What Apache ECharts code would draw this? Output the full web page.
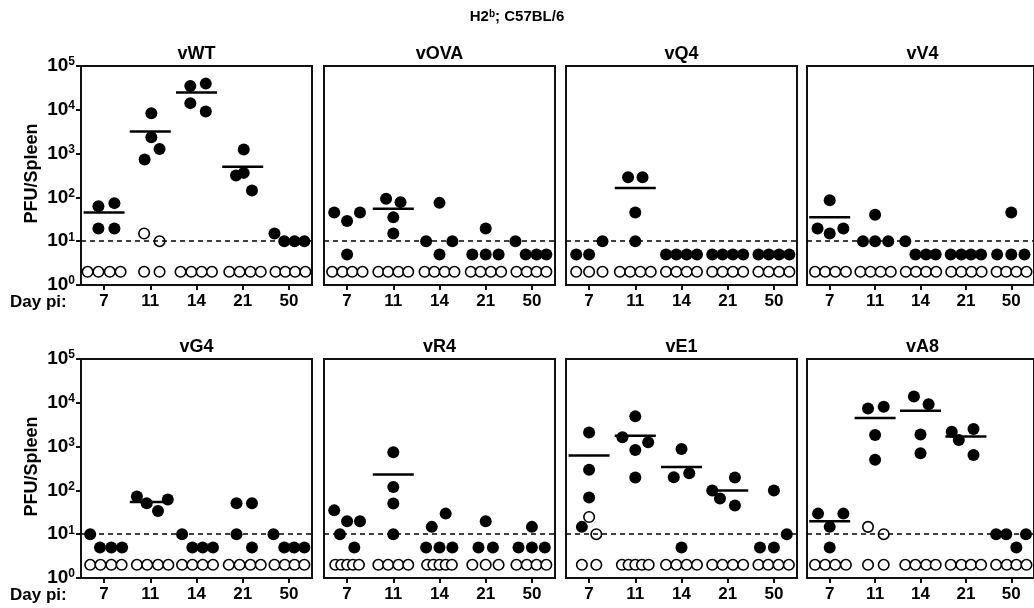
<!DOCTYPE html>
<html>
<head>
<meta charset="utf-8">
<script src="https://cdn.jsdelivr.net/npm/echarts@6/dist/echarts.min.js"></script>
<style>html,body{margin:0;padding:0;background:#fff;}#c{width:1034px;height:608px;}</style>
</head>
<body>
<div id="c"></div>
<script>
// ---- data ----
const days = ['7', '11', '14', '21', '50'];
const panelNames = ['vWT', 'vOVA', 'vQ4', 'vV4', 'vG4', 'vR4', 'vE1', 'vA8'];
const yTickValues = [1, 10, 100, 1000, 10000, 100000];
const detectionLimit = 10;

// points: [day index, jitter slot, PFU/spleen]
const vWT_filled = [[0,-0.55,63],[0,1.0,74],[0,-0.55,19.5],[0,1.0,19.5],
  [1,0.1,8300],[1,0.1,2350],[1,0.9,1280],[1,-0.55,730],
  [2,-0.6,35100],[2,0.9,39600],[2,-0.6,14200],[2,0.9,9200],
  [3,0.1,1240],[3,-0.65,316],[3,0.1,363],[3,0.9,144],
  [4,-1.4,15],[4,-0.45,10],[4,0.55,10],[4,1.5,10]];
const vWT_open = [[0,-1.6,2],[0,-0.55,2],[0,0.55,2],[0,1.6,2],
  [1,-0.6,15],[1,0.9,10],[1,-0.6,2],[1,0.9,2],
  [2,-1.55,2],[2,-0.5,2],[2,0.5,2],[2,1.5,2],
  [3,-1.3,2],[3,-0.3,2],[3,0.75,2],[3,1.75,2],
  [4,-1.3,2],[4,-0.35,2],[4,0.6,2],[4,1.6,2]];
const vWT_mean = [45, 3200, 24700, 504, null];

const vOVA_filled = [[0,-1.25,45],[0,0,29],[0,1.25,45],[0,0,5],
  [1,-0.7,93],[1,0.7,78],[1,0,35],[1,0,15],
  [2,0,75],[2,-1.3,10],[2,1.25,10],[2,0,5],
  [3,0,19.5],[3,-1.3,5],[3,0,5],[3,1.25,5],
  [4,-1.6,10],[4,-0.6,5],[4,0.45,5],[4,1.4,5]];
const vOVA_open = [[0,-1.45,2],[0,-0.45,2],[0,0.5,2],[0,1.5,2],
  [1,-1.45,2],[1,-0.5,2],[1,0.5,2],[1,1.45,2],
  [2,-1.45,2],[2,-0.5,2],[2,0.5,2],[2,1.45,2],
  [3,-1.45,2],[3,-0.5,2],[3,0.5,2],[3,1.5,2],
  [4,-1.5,2],[4,-0.5,2],[4,0.45,2],[4,1.4,2]];
const vOVA_mean = [null, 55, null, null, null];

const vQ4_filled = [[0,-1.25,5],[0,0,5],[0,1.3,10],
  [1,-0.7,290],[1,0.7,290],[1,0,45],[1,0,10],
  [2,-1.5,5],[2,-0.5,5],[2,0.5,5],[2,1.5,5],
  [3,-1.5,5],[3,-0.5,5],[3,0.5,5],[3,1.5,5],
  [4,-1.5,5],[4,-0.5,5],[4,0.5,5],[4,1.5,5]];
const vQ4_open = [[0,-1.25,2],[0,0,2],[0,1.3,2],
  [1,-1.5,2],[1,-0.5,2],[1,0.5,2],[1,1.5,2],
  [2,-1.5,2],[2,-0.5,2],[2,0.5,2],[2,1.5,2],
  [3,-1.5,2],[3,-0.5,2],[3,0.5,2],[3,1.5,2],
  [4,-1.5,2],[4,-0.5,2],[4,0.5,2],[4,1.5,2]];
const vQ4_mean = [null, 163, null, null, null];

const vV4_filled = [[0,0,86],[0,-1.2,19.5],[0,0,15],[0,1.35,19.5],
  [1,0,40],[1,-1.2,10],[1,0,10],[1,1.3,10],
  [2,-1.5,10],[2,-0.5,5],[2,0.55,5],[2,1.5,5],
  [3,-1.5,5],[3,-0.45,5],[3,0.5,5],[3,1.5,5],
  [4,0,45],[4,-1.4,5],[4,0,5],[4,1.3,5]];
const vV4_open = [[0,-1.45,2],[0,-0.45,2],[0,0.55,2],[0,1.6,2],
  [1,-1.45,2],[1,-0.45,2],[1,0.55,2],[1,1.55,2],
  [2,-1.45,2],[2,-0.45,2],[2,0.55,2],[2,1.55,2],
  [3,-1.45,2],[3,-0.45,2],[3,0.55,2],[3,1.55,2],
  [4,-1.45,2],[4,-0.5,2],[4,0.5,2],[4,1.5,2]];
const vV4_mean = [35, null, null, null, null];

const vG4_filled = [[0,-1.35,10],[0,-0.4,5],[0,0.7,5],[0,1.75,5],
  [1,-1.3,73],[1,-0.35,51],[1,0.75,34],[1,1.7,62],
  [2,-1.4,10],[2,-0.4,5],[2,0.6,5],[2,1.6,5],
  [3,-0.6,51],[3,0.9,51],[3,-0.6,10],[3,0.9,5],
  [4,-1.5,10],[4,-0.45,5],[4,0.5,5],[4,1.5,5]];
const vG4_open = [[0,-1.35,2],[0,-0.35,2],[0,0.7,2],[0,1.7,2],
  [1,-1.3,2],[1,-0.3,2],[1,0.75,2],[1,1.75,2],
  [2,-1.4,2],[2,-0.4,2],[2,0.6,2],[2,1.6,2],
  [3,-1.35,2],[3,-0.3,2],[3,0.75,2],[3,1.75,2],
  [4,-1.4,2],[4,-0.4,2],[4,0.55,2],[4,1.5,2]];
const vG4_mean = [null, 54, null, null, null];

const vR4_filled = [[0,-1.25,35],[0,0,19.7],[0,1.25,19.7],[0,-0.7,10],[0,0.7,5],
  [1,0,745],[1,0,119],[1,0,50],[1,0,10],
  [2,-0.75,14.7],[2,0.6,29.5],[2,-1.3,5],[2,0,5],[2,1.25,5],
  [3,0,19.7],[3,-0.7,5],[3,0.7,5],
  [4,0,14.7],[4,-1.3,5],[4,0,5],[4,1.25,5]];
const vR4_open = [[0,-1.15,2],[0,-0.57,2],[0,0,2],[0,0.57,2],[0,1.15,2],
  [1,-1.45,2],[1,-0.5,2],[1,0.5,2],[1,1.45,2],
  [2,-1.2,2],[2,-0.6,2],[2,0,2],[2,0.6,2],[2,1.2,2],
  [3,-1.3,2],[3,0,2],[3,1.25,2],
  [4,-1.5,2],[4,-0.5,2],[4,0.45,2],[4,1.4,2]];
const vR4_mean = [null, 231, null, null, null];

const vE1_filled = [[0,0,2090],[0,0,295],[0,0,69],[0,-0.7,14.7],
  [1,0,4900],[1,-1.25,1630],[1,1.25,1250],[1,0,840],[1,0,197],
  [2,0,885],[2,-0.75,200],[2,0.75,246],[2,0,5],
  [3,-1.5,100],[3,-0.75,65],[3,0.7,197],[3,0.7,45],
  [4,0,100],[4,-1.35,5],[4,0,5],[4,1.25,10]];
const vE1_open = [[0,0,24.7],[0,0.7,10],[0,-0.7,2],[0,0.7,2],
  [1,-1.3,2],[1,-0.65,2],[1,0,2],[1,0.65,2],[1,1.3,2],
  [2,-1.5,2],[2,-0.5,2],[2,0.5,2],[2,1.5,2],
  [3,-1.5,2],[3,-0.5,2],[3,0.5,2],[3,1.5,2],
  [4,-1.5,2],[4,-0.55,2],[4,0.45,2],[4,1.45,2]];
const vE1_mean = [624, 1780, 340, 100, null];

const vA8_filled = [[0,-1.15,29.5],[0,1.35,29.5],[0,0,14.7],[0,0,5],
  [1,-0.7,7400],[1,0.85,8100],[1,0,1840],[1,0,500],
  [2,-0.65,13900],[2,0.8,9300],[2,0,1900],[2,0,705],
  [3,-1.4,2190],[3,-0.7,1420],[3,0.75,2520],[3,0.75,646],
  [4,-1.5,10],[4,-0.5,10],[4,0.5,5],[4,1.45,10]];
const vA8_open = [[0,-1.45,2],[0,-0.45,2],[0,0.55,2],[0,1.6,2],
  [1,-0.7,14.7],[1,0.85,10],[1,-0.7,2],[1,0.85,2],
  [2,-1.5,2],[2,-0.5,2],[2,0.55,2],[2,1.5,2],
  [3,-1.5,2],[3,-0.45,2],[3,0.5,2],[3,1.5,2],
  [4,-1.5,2],[4,-0.45,2],[4,0.5,2],[4,1.5,2]];
const vA8_mean = [19.7, 4480, 6560, 1690, null];

const filledSets = [vWT_filled, vOVA_filled, vQ4_filled, vV4_filled, vG4_filled, vR4_filled, vE1_filled, vA8_filled];
const openSets = [vWT_open, vOVA_open, vQ4_open, vV4_open, vG4_open, vR4_open, vE1_open, vA8_open];
const meanSets = [vWT_mean, vOVA_mean, vQ4_mean, vV4_mean, vG4_mean, vR4_mean, vE1_mean, vA8_mean];

// ---- layout / style ----
const FONT = 'Liberation Sans, Arial, Helvetica, sans-serif';
const SLOT = 0.223;          // one symbol step, in category units
const colLeft = [81, 324, 566, 807];
const rowTop = [66, 359];
const W = 231, H = 219;
const ink = '#111';

const chart = echarts.init(document.getElementById('c'), null, {renderer: 'canvas'});
const grids = [], xAxes = [], yAxes = [], series = [], graphics = [];

function place(arr) { return arr.map(p => [p[0] + p[1] * SLOT, p[2]]); }

panelNames.forEach((name, k) => {
  const r = Math.floor(k / 4), c = k % 4;
  const left = colLeft[c], top = rowTop[r];
  const first = c === 0;
  grids.push({left: left, top: top, width: W, height: H, show: true,
    borderColor: ink, borderWidth: 2, containLabel: false});
  xAxes.push({type: 'category', gridIndex: k, data: days, boundaryGap: true,
    axisLine: {show: true, onZero: false, lineStyle: {color: ink, width: 2}},
    axisTick: {show: true, alignWithLabel: true, length: 5, lineStyle: {color: ink, width: 2}},
    axisLabel: {show: true, color: '#000', fontFamily: FONT, fontWeight: 'bold', fontSize: 17, margin: 8},
    splitLine: {show: false}});
  xAxes.push({type: 'value', gridIndex: k, min: -0.5, max: 4.5, show: false,
    axisLine: {show: false, onZero: false}, splitLine: {show: false}});
  yAxes.push({type: 'log', gridIndex: k, logBase: 10, min: yTickValues[0], max: yTickValues[yTickValues.length - 1],
    interval: 1,
    axisLine: {show: true, onZero: false, lineStyle: {color: ink, width: 2}},
    axisTick: {show: first, length: 5, lineStyle: {color: ink, width: 2}},
    axisLabel: {show: first, margin: 6, fontFamily: FONT,
      formatter: v => '{a|10}{b|' + Math.round(Math.log10(v)) + '}',
      rich: {a: {fontFamily: FONT, fontWeight: 'bold', fontSize: 19, color: '#000'},
             b: {fontFamily: FONT, fontWeight: 'bold', fontSize: 12, color: '#000', verticalAlign: 'top', padding: [0, 0, 8, 0]}}},
    splitLine: {show: false}});

  const xi = 2 * k + 1, yi = k;
  series.push({type: 'scatter', xAxisIndex: xi, yAxisIndex: yi, z: 2, silent: true,
    symbol: 'rect', symbolSize: [41, 2.5], itemStyle: {color: '#000', opacity: 1},
    data: meanSets[k].map((m, i) => m == null ? null : [i, m]).filter(d => d)});
  series.push({type: 'scatter', xAxisIndex: xi, yAxisIndex: yi, z: 3, silent: true,
    symbol: 'circle', symbolSize: 12, itemStyle: {color: '#000', opacity: 1},
    data: place(filledSets[k]),
    markLine: {silent: true, symbol: ['none', 'none'], label: {show: false},
      lineStyle: {type: [5, 4], color: '#000', width: 1.5, opacity: 1}, data: [{yAxis: detectionLimit}]}});
  series.push({type: 'scatter', xAxisIndex: xi, yAxisIndex: yi, z: 4, silent: true,
    symbol: 'circle', symbolSize: 10.5, itemStyle: {color: '#fff', borderColor: '#000', borderWidth: 1.6, opacity: 1},
    data: place(openSets[k])});

  graphics.push({type: 'text', x: left + W / 2, y: top - 12, silent: true,
    style: {text: name, align: 'center', verticalAlign: 'middle', fill: '#000',
      fontFamily: FONT, fontWeight: 'bold', fontSize: 18}});
  if (first) {
    graphics.push({type: 'text', x: 32, y: top + H / 2 - 2, rotation: Math.PI / 2, silent: true,
      style: {text: 'PFU/Spleen', align: 'center', verticalAlign: 'middle', fill: '#000',
        fontFamily: FONT, fontWeight: 'bold', fontSize: 18}});
    graphics.push({type: 'text', x: 10, y: top + H + 17, silent: true,
      style: {text: 'Day pi:', align: 'left', verticalAlign: 'middle', fill: '#000',
        fontFamily: FONT, fontWeight: 'bold', fontSize: 17}});
  }
});

graphics.push({type: 'text', x: 517, y: 17, silent: true,
  style: {text: '{a|H2}{b|b}{a|; C57BL/6}', align: 'center', verticalAlign: 'middle',
    rich: {a: {fontFamily: FONT, fontWeight: 'bold', fontSize: 15, fill: '#000', color: '#000'},
           b: {fontFamily: FONT, fontWeight: 'bold', fontSize: 10, fill: '#000', color: '#000', verticalAlign: 'top', padding: [0, 0, 6, 0]}}}});

chart.setOption({
  animation: false,
  backgroundColor: '#fff',
  grid: grids, xAxis: xAxes, yAxis: yAxes, series: series, graphic: graphics
});
</script>
</body>
</html>
